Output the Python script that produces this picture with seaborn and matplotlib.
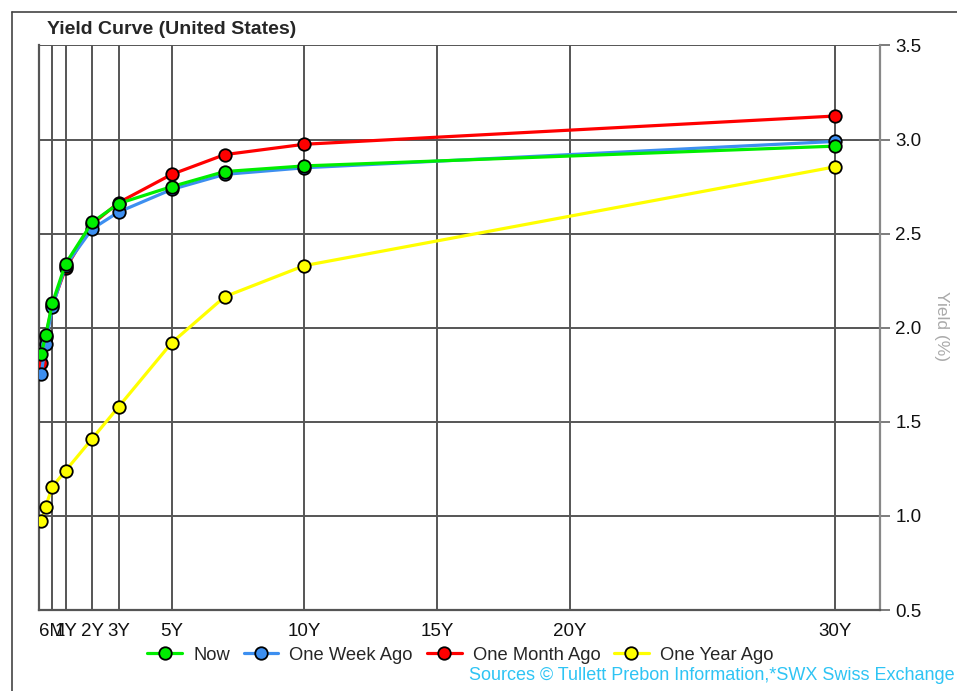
import pandas as pd
import matplotlib
matplotlib.use("Agg")
import matplotlib.pyplot as plt
from matplotlib.lines import Line2D
import seaborn as sns

# maturities in years: 1M, 3M, 6M, 1Y, 2Y, 3Y, 5Y, 7Y, 10Y, 30Y
maturities = [1 / 12, 0.25, 0.5, 1, 2, 3, 5, 7, 10, 30]

now = [1.86, 1.96, 2.13, 2.34, 2.56, 2.66, 2.75, 2.83, 2.86, 2.965]
week_ago = [1.755, 1.915, 2.11, 2.33, 2.525, 2.615, 2.735, 2.815, 2.85, 2.99]
month_ago = [1.81, 1.95, 2.12, 2.315, 2.55, 2.665, 2.815, 2.92, 2.975, 3.125]
year_ago = [0.975, 1.05, 1.155, 1.24, 1.41, 1.58, 1.92, 2.165, 2.33, 2.855]

series_names = ["Now", "One Week Ago", "One Month Ago", "One Year Ago"]
series_values = [now, week_ago, month_ago, year_ago]
series_colors = ["#00ee00", "#3d8ff0", "#ff0000", "#ffff00"]

tick_pos = [0.5, 1, 2, 3, 5, 10, 15, 20, 30]
tick_labels = ["6M", "1Y", "2Y", "3Y", "5Y", "10Y", "15Y", "20Y", "30Y"]
y_ticks = [0.5, 1.0, 1.5, 2.0, 2.5, 3.0, 3.5]

sns.set_style("white")
plt.rcParams['font.family'] = ['Liberation Sans', 'DejaVu Sans']

fig = plt.figure(figsize=(9.57, 6.91), dpi=100)
ax = fig.add_axes([0.0408, 0.1172, 0.8787, 0.817])

grid_col = "#555555"
for x in tick_pos:
    ax.axvline(x, color=grid_col, lw=1.4, zorder=0)
for y in y_ticks:
    ax.axhline(y, color=grid_col, lw=1.4, zorder=0)

# draw order: year first, now on top
for i in [3, 2, 1, 0]:
    df = pd.DataFrame({"Maturity": maturities, "Yield": series_values[i]})
    sns.lineplot(data=df, x="Maturity", y="Yield", ax=ax, color=series_colors[i],
                 linewidth=2.3, marker="o", markersize=9, markeredgecolor="black",
                 markeredgewidth=1.3, label=series_names[i], zorder=3 + (3 - i))

ax.set_xlim(0, 31.7)
ax.set_ylim(0.5, 3.5)
ax.set_xticks(tick_pos)
ax.set_xticklabels(tick_labels)
ax.set_yticks(y_ticks)
ax.set_yticklabels([f"{v:.1f}" for v in y_ticks])
ax.yaxis.tick_right()
ax.tick_params(axis="both", direction="out", length=7, width=1.2, color="#666666",
               labelsize=13.5, labelcolor="#111111", pad=2)
ax.tick_params(axis="y", pad=4)
ax.set_xlabel("")
ax.set_ylabel("")

for side in ["left", "bottom"]:
    ax.spines[side].set_color("#555555")
    ax.spines[side].set_linewidth(1.6)
ax.spines["right"].set_color("#888888")
ax.spines["right"].set_linewidth(1.6)
ax.spines["top"].set_visible(False)

handles, labels = ax.get_legend_handles_labels()
order = [labels.index(n) for n in series_names]
ax.get_legend().remove()
fig.legend([handles[k] for k in order], series_names, loc="center",
           bbox_to_anchor=(0.481, 0.052), ncol=4, frameon=False, fontsize=13.2,
           handlelength=1.9, columnspacing=0.75, handletextpad=0.6)

fig.text(47 / 957, 1 - 29 / 691, "Yield Curve (United States)", fontsize=14,
         fontweight="bold", ha="left", va="center")
fig.text(942 / 957, 1 - 326 / 691, "Yield (%)", rotation=270, color="#aaaaaa",
         fontsize=12.5, ha="center", va="center")
fig.text(955 / 957, 1 - 675 / 691, "Sources © Tullett Prebon Information,*SWX Swiss Exchange",
         color="#2ec4f4", fontsize=13, ha="right", va="center")

# outer frame
fig.add_artist(Line2D([12 / 957, 12 / 957], [0, 1 - 12 / 691], color="#444444", lw=1.2))
fig.add_artist(Line2D([12 / 957, 1], [1 - 12 / 691, 1 - 12 / 691], color="#444444", lw=1.2))

fig.savefig("out.png", dpi=100)
